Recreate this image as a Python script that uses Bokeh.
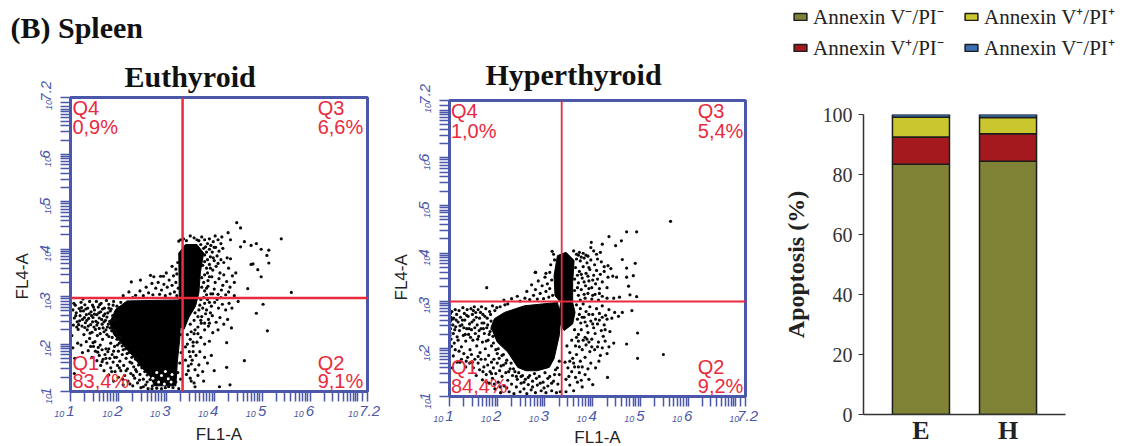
import numpy as np
from bokeh.embed import file_html
from bokeh.resources import INLINE
from bokeh.layouts import column, row
from bokeh.plotting import figure
from bokeh.models import (ColumnDataSource, FactorRange, FixedTicker, Label, Legend, LegendItem, LinearAxis, Range1d, Span, Title)

# --- Flow cytometry (log10 FL1-A, log10 FL4-A)
TICK_VALUES = [1, 2, 3, 4, 5, 6, 7, 7.2]
TICK_LABELS = ["1", "2", "3", "4", "5", "6", "", "7.2"]
PREFIX_VALUES = [1, 2, 3, 4, 5, 6, 7.2]

E_core = [(1.82,2.45),(1.94,2.73),(2.18,2.91),(3.26,2.93),(3.30,2.59),(3.28,2.10),(3.23,1.62),(3.2,1.12),(2.75,1.12),(2.66,1.32),(2.45,1.55),(2.3,1.75),(2.08,2.0),(1.9,2.2)]
E_tower = [(3.26,3.92),(3.40,4.10),(3.64,4.10),(3.78,3.92),(3.71,3.50),(3.68,3.08),(3.61,2.80),(3.47,2.56),(3.37,2.31),(3.22,2.4),(3.27,3.0)]
E_holes = [(2.72,1.28),(2.84,1.2),(2.9,1.34),(2.96,1.16),(3.04,1.27),(2.8,1.4),(3.1,1.2),(2.68,1.18),(2.98,1.42),(3.12,1.36)]
E_gate = (3.34, 2.97)
E_quadrants = [("Q4","0,9%"),("Q3","6,6%"),("Q1","83,4%"),("Q2","9,1%")]
E_points = [
(1.05,2.72),(1.08,2.55),(1.06,2.4),(1.1,2.82),(1.12,2.66),(1.14,2.47),(1.16,2.31),(1.18,2.75),(1.2,2.6),(1.22,2.88),(1.24,2.38),(1.25,2.52),(1.27,2.7),(1.28,2.2),(1.3,2.83),(1.31,2.45),(1.33,2.62),(1.35,2.3),(1.36,2.76),(1.38,2.54),(1.4,2.9),(1.4,2.12),(1.42,2.41),(1.43,2.68),(1.45,2.25),(1.46,2.82),(1.47,2.56),(1.49,2.36),(1.5,2.72),(1.51,2.05),(1.53,2.48),(1.54,2.9),(1.55,2.62),(1.56,2.18),(1.58,2.78),(1.6,2.33),(1.6,2.55),(1.62,1.98),(1.63,2.68),(1.64,2.86),(1.66,2.42),(1.67,2.1),(1.69,2.6),(1.7,2.26),(1.71,2.76),(1.73,2.5),(1.74,1.9),(1.75,2.92),(1.77,2.36),(1.78,2.66),(1.8,2.16),(1.8,2.84),(1.82,2.48),(1.84,2.02),(1.85,2.74),(1.86,2.28),(1.88,2.6),(1.9,1.85),(1.9,2.9),
(1.11,2.6),(1.17,2.41),(1.23,2.77),(1.29,2.56),(1.34,2.5),(1.37,2.38),(1.44,2.6),(1.48,2.78),(1.52,2.31),(1.57,2.45),(1.61,2.83),(1.65,2.52),(1.68,2.34),(1.72,2.64),(1.76,2.2),(1.79,2.42),(1.83,2.7),(1.87,2.14),(1.91,2.3),(1.93,2.52),(1.97,2.1),(1.97,2.8),(2.02,2.02),(2.05,2.88),(2.08,1.96),
(1.03,2.18),(1.05,1.92),(1.09,1.7),(1.15,2.02),(1.08,1.38),(1.22,1.98),(1.25,1.82),(1.33,2.05),(1.37,1.86),(1.42,1.95),(1.45,1.72),(1.47,2.03),(1.52,1.85),(1.55,1.65),(1.58,1.93),(1.6,1.76),(1.63,1.55),(1.66,1.88),(1.68,1.68),(1.7,1.44),(1.72,1.78),(1.76,1.6),(1.78,1.84),(1.8,1.35),(1.82,1.7),(1.84,1.5),(1.87,1.78),(1.89,1.62),(1.9,1.22),(1.92,1.95),(1.93,1.42),(1.96,1.72),(1.98,1.55),(2.0,1.85),(2.0,1.3),(2.03,1.64),(2.05,1.44),(2.08,1.78),(2.1,1.14),(2.11,1.55),(2.13,1.34),(2.15,1.9),(2.16,1.7),(2.19,1.48),(2.2,1.22),(2.22,1.82),(2.24,1.62),(2.26,1.38),(2.28,1.72),(2.3,1.12),(2.32,1.52),(2.34,1.28),(2.36,1.68),(2.38,1.42),(2.4,1.18),(2.42,1.56),(2.45,1.36),(2.47,1.08),(2.49,1.5),(2.52,1.26),(2.55,1.42),(2.57,1.14),(2.6,1.35),(2.62,1.06),(2.66,1.25),(2.68,1.42),(2.71,1.12),(2.74,1.3),(2.77,1.2),(2.8,1.07),(2.83,1.16),(2.9,1.06),(2.98,1.08),(3.05,1.1),(3.14,1.08),(3.2,1.2),(3.24,1.4),(3.26,1.06),(3.28,1.6),(3.3,1.26),(3.31,1.82),(3.3,2.2),
(2.27,3.31),(2.46,3.35),(2.67,3.45),(2.74,3.42),(2.88,3.43),(2.94,3.43),(3.0,3.5),(3.12,3.64),(3.26,4.17),(3.24,3.72),(3.2,3.58),(2.36,3.03),(2.45,3.12),(2.52,3.02),(2.58,3.2),(2.63,3.08),(2.7,3.28),(2.72,3.04),(2.78,3.18),(2.83,3.3),(2.86,3.05),(2.9,3.14),(2.95,3.26),(2.98,3.02),(3.02,3.2),(3.06,3.35),(3.08,3.06),(3.12,3.24),(3.15,3.44),(3.17,3.1),(3.2,3.3),(3.22,3.02),(3.25,3.18),(3.22,3.48),(2.1,3.02),(2.22,3.1),(2.3,2.98),
(3.3,4.2),(3.36,4.22),(3.5,4.28),(3.58,4.24),(3.68,4.18),(3.74,4.26),(3.8,4.2),(3.86,4.12),(3.9,4.22),(3.98,4.16),(4.02,4.28),(4.08,4.2),(4.14,4.12),(4.16,4.26),(3.82,4.05),(3.9,4.0),(3.96,3.94),(4.03,4.04),(4.1,3.96),(4.18,4.02),(3.8,3.88),(3.86,3.78),(3.92,3.84),(4.0,3.76),(4.06,3.86),(4.14,3.78),(4.2,3.72),(4.27,3.82),(4.34,3.8),(3.76,3.66),(3.84,3.6),(3.9,3.68),(3.97,3.56),(4.04,3.64),(4.12,3.5),(4.2,3.46),(4.3,3.6),(4.38,3.44),(4.45,3.5),(3.74,3.4),(3.8,3.46),(3.87,3.34),(3.95,3.42),(4.02,3.3),(4.1,3.38),(4.18,3.24),(4.26,3.32),(4.33,3.2),(4.42,3.3),(3.74,3.2),(3.8,3.12),(3.87,3.22),(3.93,3.06),(4.0,3.16),(4.08,3.05),(4.15,3.14),(4.24,3.04),(4.3,3.1),(4.42,3.02),(3.72,2.94),(3.8,2.86),(3.86,2.94),(3.94,2.8),(4.01,2.88),(4.09,2.76),(4.17,2.84),(4.24,2.72),(4.31,2.86),(4.37,2.76),(4.5,2.9),
(3.6,2.66),(3.68,2.72),(3.74,2.58),(3.82,2.64),(3.88,2.52),(3.96,2.6),(4.04,2.46),(4.12,2.56),(4.2,2.42),(4.28,2.52),(4.36,2.34),(3.5,2.42),(3.58,2.5),(3.66,2.36),(3.73,2.44),(3.8,2.3),(3.88,2.38),(3.97,2.24),(4.08,2.3),(3.44,2.2),(3.5,2.1),(3.58,2.22),(3.64,2.04),(3.72,2.14),(3.8,2.0),(3.9,2.06),(3.4,1.94),(3.48,1.84),(3.56,1.96),(3.62,1.76),(3.7,1.84),(3.8,1.72),(3.94,1.76),(3.4,1.66),(3.46,1.54),(3.54,1.66),(3.6,1.46),(3.68,1.56),(3.76,1.42),(3.86,1.6),(3.42,1.36),(3.5,1.28),(3.58,1.18),(3.66,1.34),
(4.47,4.56),(4.55,4.45),(5.40,4.22),(4.29,4.35),(4.34,4.2),(4.63,4.16),(4.88,4.12),(4.77,4.08),(4.55,4.05),(4.98,4.0),(5.14,3.98),(5.10,3.87),(5.14,3.71),(4.77,3.68),(4.81,3.69),(4.91,3.57),(4.98,3.42),(4.70,3.17),(5.61,3.09),(5.02,2.84),(4.88,2.65),(5.11,2.28),(4.63,1.65),(4.26,2.03),(4.26,1.51),(4.33,1.14),(4.11,1.10),(4.0,1.44),(3.78,1.22),(3.52,1.22),(3.6,1.1),
# second pass over the busiest parts of the cloud
(1.07,2.86),(1.13,2.36),(1.19,2.49),(1.21,2.7),(1.26,2.95),(1.3,2.35),(1.32,2.74),(1.39,2.64),(1.41,2.23),(1.46,2.47),(1.5,2.63),(1.55,2.4),(1.59,2.66),(1.62,2.22),(1.67,2.74),(1.7,2.47),(1.74,2.3),(1.76,2.57),(1.8,2.76),(1.83,2.34),(1.86,2.5),(1.89,2.82),(1.95,2.23),(1.98,1.98),(2.04,2.14),(2.1,1.88),(2.18,1.8),(2.28,1.6),(2.36,1.46),(2.44,1.24),(2.52,1.1),(2.6,1.2),(2.7,1.06),(1.48,1.95),(1.57,1.83),(1.66,1.63),(1.74,1.7),(1.8,1.9),(1.86,1.42),(1.92,1.72),(2.02,1.5),(2.09,1.26),(2.16,1.44),(2.24,1.16),(2.31,1.34),
(3.42,4.18),(3.64,4.2),(3.72,4.1),(3.78,4.02),(3.84,3.94),(3.93,4.08),(4.0,4.04),(3.8,3.74),(3.86,3.5),(3.92,3.6),(3.98,3.82),(4.08,3.7),(3.78,3.3),(3.84,3.18),(3.9,3.42),(3.78,2.98),(3.84,3.04),(3.9,2.88),(3.97,3.06),(4.06,2.94),(4.14,2.98),(3.7,2.82),(3.76,2.76),(3.84,2.72),(3.92,2.66),(3.66,2.58),(3.72,2.5),(3.8,2.44),(3.9,2.44),(3.6,2.3),(3.66,2.22),(3.52,2.26),(3.56,2.04),(3.44,2.0),(3.5,1.74),(3.56,1.84),(3.46,1.44),(3.52,1.58)]

H_core = [(1.87,2.45),(1.94,2.63),(2.15,2.76),(2.57,2.90),(3.26,2.97),(3.33,2.69),(3.30,2.28),(3.19,1.79),(3.09,1.61),(2.84,1.54),(2.60,1.54),(2.43,1.61),(2.22,1.93),(2.0,2.14)]
H_tower = [(3.19,3.53),(3.26,3.95),(3.44,4.02),(3.61,3.85),(3.58,3.39),(3.58,2.97),(3.63,2.76),(3.58,2.52),(3.40,2.38),(3.27,2.6),(3.33,2.97),(3.21,3.11)]
H_holes = []
H_gate = (3.35, 2.99)
H_quadrants = [("Q4","1,0%"),("Q3","5,4%"),("Q1","84,4%"),("Q2","9,2%")]
H_points = [
(1.01,2.5),(1.02,2.42),(1.01,2.34),(1.02,2.58),(1.01,2.28),(1.03,2.2),(1.03,2.66),(1.05,2.78),(1.07,2.5),(1.08,2.32),(1.09,2.64),(1.1,2.12),(1.12,2.82),(1.13,2.46),(1.15,2.72),(1.16,2.25),(1.18,2.56),(1.2,2.8),(1.21,2.38),(1.23,2.66),(1.25,2.04),(1.26,2.5),(1.28,2.86),(1.29,2.28),(1.31,2.74),(1.32,2.6),(1.34,2.16),(1.36,2.42),(1.37,2.82),(1.39,2.68),(1.4,2.3),(1.42,2.52),(1.43,1.98),(1.45,2.84),(1.46,2.4),(1.48,2.72),(1.49,2.18),(1.51,2.6),(1.52,2.88),(1.54,2.32),(1.55,2.76),(1.57,2.06),(1.58,2.5),(1.6,2.82),(1.61,2.26),(1.63,2.64),(1.64,1.92),(1.66,2.42),(1.67,2.88),(1.69,2.14),(1.7,2.72),(1.72,2.54),(1.73,2.32),(1.75,2.0),(1.76,2.84),(1.78,2.44),(1.79,2.64),(1.81,2.18),(1.82,1.86),(1.84,2.78),(1.85,2.36),(1.87,2.58),(1.88,2.06),(1.9,2.9),(1.91,2.26),(1.93,1.78),(1.95,2.8),(1.97,1.98),(1.99,2.86),(2.02,2.0),(2.06,2.88),(2.1,1.86),(2.16,2.92),(2.22,2.94),
(1.04,2.05),(1.08,1.85),(1.06,1.6),(1.12,1.98),(1.16,1.72),(1.2,1.95),(1.25,1.78),(1.3,1.9),(1.34,1.62),(1.38,1.82),(1.42,1.7),(1.46,1.88),(1.5,1.6),(1.53,1.78),(1.56,1.44),(1.6,1.7),(1.63,1.56),(1.66,1.78),(1.69,1.35),(1.72,1.62),(1.75,1.78),(1.77,1.46),(1.8,1.66),(1.83,1.28),(1.85,1.52),(1.88,1.72),(1.9,1.38),(1.92,1.6),(1.95,1.16),(1.97,1.48),(2.0,1.7),(2.02,1.3),(2.05,1.54),(2.07,1.08),(2.1,1.42),(2.13,1.66),(2.15,1.22),(2.18,1.5),(2.2,1.76),(2.22,1.34),(2.25,1.1),(2.27,1.58),(2.3,1.26),(2.32,1.44),(2.35,1.06),(2.37,1.52),(2.4,1.2),(2.42,1.36),(2.45,1.5),(2.48,1.1),(2.5,1.28),(2.53,1.44),(2.56,1.16),(2.59,1.36),(2.62,1.06),(2.65,1.25),(2.68,1.44),(2.71,1.14),(2.74,1.32),(2.78,1.48),(2.8,1.08),(2.84,1.24),(2.88,1.42),(2.92,1.12),(2.96,1.3),(3.0,1.5),(3.02,1.08),(3.06,1.22),(3.1,1.42),(3.14,1.12),(3.18,1.32),(3.22,1.56),(3.24,1.08),(3.27,1.26),(3.3,1.46),(3.3,1.74),(3.32,1.1),
(1.78,3.28),(2.14,3.02),(2.3,3.05),(2.42,3.1),(2.48,3.0),(2.58,3.06),(2.62,3.2),(2.68,3.03),(2.72,3.34),(2.76,3.12),(2.8,3.24),(2.84,3.04),(2.86,3.42),(2.9,3.16),(2.94,3.32),(2.97,3.05),(3.0,3.5),(3.02,3.2),(3.05,3.36),(3.08,3.08),(3.1,3.6),(3.1,3.26),(3.14,3.44),(3.16,3.12),(3.02,3.58),(2.8,3.6),(3.2,3.86),(3.18,3.98),(3.12,3.76),(3.15,4.04),(2.8,3.6),
(3.6,4.05),(3.72,4.02),(3.7,3.96),(3.8,4.0),(3.9,3.94),(3.96,4.12),(4.02,4.05),(4.08,3.98),(4.16,4.02),(3.66,3.88),(3.74,3.84),(3.82,3.9),(3.88,3.8),(3.96,3.86),(4.04,3.76),(4.1,3.88),(4.18,3.82),(4.24,3.72),(4.32,3.74),(4.38,3.68),(3.64,3.7),(3.72,3.62),(3.8,3.72),(3.86,3.58),(3.94,3.66),(4.02,3.54),(4.08,3.64),(4.16,3.56),(4.24,3.62),(4.32,3.5),(4.42,3.52),(4.5,3.5),(3.62,3.46),(3.7,3.38),(3.78,3.48),(3.85,3.32),(3.92,3.42),(3.98,3.28),(4.06,3.36),(4.14,3.26),(4.2,3.4),(4.3,3.28),(3.62,3.22),(3.7,3.12),(3.76,3.24),(3.84,3.06),(3.9,3.16),(3.98,3.04),(4.05,3.14),(4.12,3.02),(4.2,3.1),(4.3,3.06),(4.44,3.06),(4.56,3.08),
(3.66,2.92),(3.74,2.84),(3.8,2.94),(3.86,2.78),(3.94,2.88),(4.0,2.72),(4.08,2.84),(4.14,2.74),(4.2,2.9),(4.27,2.7),(4.34,2.82),(4.4,2.64),(4.46,2.76),(4.54,2.68),(4.62,2.76),(3.68,2.62),(3.75,2.54),(3.82,2.66),(3.88,2.48),(3.96,2.58),(4.02,2.44),(4.1,2.52),(4.18,2.38),(4.24,2.5),(4.3,2.62),(4.36,2.36),(3.62,2.4),(3.7,2.3),(3.76,2.4),(3.84,2.24),(3.9,2.34),(3.98,2.2),(4.05,2.32),(4.12,2.14),(4.2,2.02),(4.26,2.16),(4.34,2.04),(4.44,2.12),(3.56,2.18),(3.64,2.06),(3.7,2.16),(3.78,1.98),(3.86,2.08),(3.94,1.94),(4.04,1.98),(4.16,1.86),(4.3,1.9),(3.46,2.06),(3.52,1.92),(3.58,1.8),(3.66,1.88),(3.74,1.74),(3.84,1.82),(3.96,1.7),(4.06,1.6),(3.42,1.72),(3.48,1.6),(3.56,1.52),(3.62,1.62),(3.72,1.5),(3.84,1.46),(3.92,1.36),(3.44,1.36),(3.52,1.24),(3.6,1.12),(3.68,1.3),(3.78,1.2),(3.44,1.1),
(5.63,4.67),(4.71,4.45),(4.92,4.45),(4.34,4.35),(4.60,4.26),(3.97,4.23),(4.48,4.16),(4.20,4.19),(4.62,3.87),(4.89,3.79),(4.71,3.69),(4.85,3.53),(4.71,3.50),(4.75,3.31),(4.78,3.13),(4.92,3.09),(4.82,2.80),(4.94,2.33),(4.71,2.10),(5.48,1.88),(4.94,1.80),(4.31,1.40),(4.0,1.25),(4.13,1.74),(2.80,3.6),
# second pass over the busiest parts of the cloud
(1.02,2.74),(1.06,2.62),(1.11,2.4),(1.14,2.6),(1.18,2.18),(1.22,2.48),(1.27,2.6),(1.3,2.44),(1.33,2.3),(1.36,2.7),(1.41,2.42),(1.44,2.24),(1.47,2.56),(1.5,2.8),(1.53,2.44),(1.56,2.66),(1.59,2.2),(1.62,2.38),(1.65,2.76),(1.68,2.54),(1.71,2.42),(1.74,2.68),(1.77,2.16),(1.8,2.5),(1.83,2.3),(1.86,2.72),(1.89,2.42),(1.92,2.12),(1.96,2.32),(2.0,1.9),(2.04,1.8),(2.08,1.64),(2.13,1.88),(2.18,1.7),(2.24,1.52),(2.29,1.7),(2.34,1.58),(2.4,1.42),(2.5,1.42),(2.56,1.3),(2.65,1.4),(2.74,1.2),(2.82,1.38),(2.9,1.28),(2.98,1.18),(3.06,1.38),(3.14,1.28),(3.2,1.46),(3.26,1.6),(1.22,1.72),(1.35,1.74),(1.48,1.72),(1.6,1.84),(1.7,1.52),(1.78,1.3),(1.88,1.48),(1.94,1.26),(2.06,1.2),(2.2,1.18),
(3.66,3.98),(3.76,3.92),(3.86,3.96),(3.92,3.7),(3.68,3.54),(3.76,3.56),(3.82,3.4),(3.9,3.52),(4.0,3.44),(4.1,3.46),(3.68,3.28),(3.74,3.02),(3.82,3.14),(3.92,3.26),(4.0,3.12),(4.14,3.16),(3.72,2.72),(3.78,2.66),(3.84,2.56),(3.92,2.72),(4.0,2.52),(4.06,2.62),(4.14,2.6),(4.2,2.66),(4.26,2.4),(3.66,2.24),(3.72,2.04),(3.8,2.18),(3.88,2.2),(3.92,2.14),(3.98,2.04),(4.1,2.04),(4.22,2.26),(3.52,1.74),(3.6,1.7),(3.7,1.62),(3.78,1.62),(3.9,1.58),(3.5,1.42),(3.64,1.4),(3.76,1.34)]

# --- Stacked bars: apoptosis (%) per group
GROUPS = ["E", "H"]
V_NEG_PI_NEG = [83.4, 84.4]
V_POS_PI_NEG = [9.1, 9.2]
V_POS_PI_POS = [6.6, 5.4]
V_NEG_PI_POS = [0.9, 1.0]
BAR_TICKS = [0, 20, 40, 60, 80, 100]
SERIES_NAMES = ["Annexin V\u207b/PI\u207b", "Annexin V\u207a/PI\u207a", "Annexin V\u207a/PI\u207b", "Annexin V\u207b/PI\u207a"]
SERIES_COLORS = ["#808235", "#c9c62e", "#a3191e", "#3a6fb0"]

BLUE = "#4b57a9"
RED = "#ea2a3e"
SERIF = "Liberation Serif"
SANS = "Liberation Sans"
NB = "\u00a0"

def log_ticks():
    return [float(n + np.log10(k)) for n in range(1, 7) for k in range(2, 10)] + [7.1]

def lab(p, text, x, y, **kw):
    kw.setdefault("text_font", SANS)
    p.add_layout(Label(x=x, y=y, text=text, **kw))

def prefix_axis(pad):
    ax = LinearAxis(ticker=FixedTicker(ticks=PREFIX_VALUES),
                    major_label_overrides={v: "10" + NB * pad for v in PREFIX_VALUES})
    ax.axis_line_color = None
    ax.major_tick_line_color = None
    ax.minor_tick_line_color = None
    ax.major_tick_out = 0
    ax.major_tick_in = 0
    ax.minor_tick_out = 0
    ax.minor_tick_in = 0
    ax.major_label_text_color = BLUE
    ax.major_label_text_font = SANS
    ax.major_label_text_font_style = "italic"
    ax.major_label_text_font_size = "9px"
    return ax

def facs(width, height, left, right, top, bottom, core, tower, holes, points, gate, quads, title, title_off, title_standoff,
         qy, qx, line_w, fl4_offset, fl1_standoff):
    p = figure(width=width, height=height, min_border_left=left, min_border_right=right, min_border_top=top,
               min_border_bottom=bottom, x_range=Range1d(1, 7.2), y_range=Range1d(1, 7.2), frame_align=False,
               toolbar_location=None, output_backend="svg", background_fill_color="white", border_fill_color="white")
    p.grid.visible = False
    p.outline_line_color = BLUE
    p.outline_line_width = 3
    extra = log_ticks()
    for ax, orient, pad7, standoff in ((p.xaxis[0], "horizontal", 1, 0), (p.yaxis[0], "vertical", 3, 7)):
        ax.ticker = FixedTicker(ticks=TICK_VALUES + extra)
        labels = {v: (NB * pad7 + t if v == 7.2 else t) for v, t in zip(TICK_VALUES, TICK_LABELS)}
        labels.update({v: "" for v in extra})
        ax.major_label_overrides = labels
        ax.major_label_orientation = orient
        ax.major_label_text_color = BLUE
        ax.major_label_text_font = SANS
        ax.major_label_text_font_style = "italic"
        ax.major_label_text_font_size = "15px"
        ax.major_label_standoff = standoff
        ax.axis_line_color = BLUE
        ax.axis_line_width = 3
        ax.major_tick_line_color = BLUE
        ax.major_tick_line_width = 1.5
        ax.major_tick_out = 10
        ax.major_tick_in = 0
        ax.minor_tick_line_color = None
        ax.minor_tick_out = 0
        ax.minor_tick_in = 0

    bx = prefix_axis(9)
    bx.major_label_standoff = -13
    bx.axis_label = "FL1-A"
    bx.axis_label_text_font = SANS
    bx.axis_label_text_font_style = "normal"
    bx.axis_label_text_font_size = "17px"
    bx.axis_label_text_color = "#222222"
    bx.axis_label_standoff = fl1_standoff
    p.add_layout(bx, "below")

    ly = prefix_axis(6)
    ly.major_label_orientation = "vertical"
    ly.major_label_standoff = -20
    p.add_layout(ly, "left")
    p.add_layout(Title(text="FL4-A", align="left", offset=fl4_offset, standoff=4, text_font=SANS, text_font_style="normal",
                       text_font_size="17px", text_color="#222222"), "left")

    for poly in (core, tower):
        p.patch([a for a, _ in poly], [b for _, b in poly], fill_color="#000000", line_color="#000000", line_width=1)
    p.scatter([a for a, _ in points], [b for _, b in points], size=3.2, marker="circle", fill_color="#0a0a0a", line_color=None)
    if holes:
        p.scatter([a for a, _ in holes], [b for _, b in holes], size=3, marker="circle", fill_color="white", line_color=None)

    p.add_layout(Span(location=gate[0], dimension="height", line_color=RED, line_width=line_w))
    p.add_layout(Span(location=gate[1], dimension="width", line_color=RED, line_width=line_w))

    (q4, q3, q1, q2) = quads
    ql, qr = qx
    for (name, pct), x, y1, y2 in ((q4, ql, qy[0], qy[1]), (q3, qr, qy[0], qy[1]), (q1, ql, qy[2], qy[3]), (q2, qr, qy[2], qy[3])):
        lab(p, name, x, y1, text_color=RED, text_font_size="20px", text_baseline="alphabetic")
        lab(p, pct, x, y2, text_color=RED, text_font_size="20px", text_baseline="alphabetic")

    p.add_layout(Title(text=title, align="left", offset=title_off, standoff=title_standoff, text_font=SERIF, text_font_style="bold",
                       text_font_size="30px", text_color="#111111"), "above")
    return p

p1 = facs(380, 447, 70, 13, 95, 56, E_core, E_tower, E_holes, E_points, E_gate, E_quadrants, "Euthyroid", 54, 10,
          (6.97, 6.57, 1.60, 1.22), (1.04, 6.16), 2.5, 92, 3)
p1.add_layout(Title(text="(B) Spleen", align="left", offset=-60, standoff=17, text_font=SERIF, text_font_style="bold",
                    text_font_size="30px", text_color="#111111"), "above")
p2 = facs(390, 451, 69, 25, 100, 55, H_core, H_tower, H_holes, H_points, H_gate, H_quadrants, "Hyperthyroid", 36, 20,
          (6.97, 6.56, 1.62, 1.23), (1.03, 6.2), 1.8, 96, 1)

# --- bars
src = ColumnDataSource(dict(group=GROUPS, a=V_NEG_PI_NEG, b=V_POS_PI_NEG, c=V_POS_PI_POS, d=V_NEG_PI_POS))
p3 = figure(width=365, height=377, min_border_left=93, min_border_right=70, min_border_top=44, min_border_bottom=33,
            x_range=FactorRange(factors=GROUPS, range_padding=0.16), y_range=Range1d(0, 100), frame_align=False,
            toolbar_location=None, output_backend="svg", background_fill_color="white", border_fill_color="white")
rs = p3.vbar_stack(["a", "b", "c", "d"], x="group", width=0.655, source=src,
                   color=[SERIES_COLORS[0], SERIES_COLORS[2], SERIES_COLORS[1], SERIES_COLORS[3]], line_color="#1c1c1c", line_width=1.5)
p3.grid.visible = False
p3.outline_line_color = None
p3.yaxis.ticker = FixedTicker(ticks=BAR_TICKS)
p3.yaxis.axis_label = "Apoptosis (%)"
p3.yaxis.axis_label_text_font = SERIF
p3.yaxis.axis_label_text_font_style = "bold"
p3.yaxis.axis_label_text_font_size = "24px"
p3.yaxis.axis_label_text_color = "#222222"
p3.yaxis.axis_label_standoff = 11
p3.yaxis.major_label_text_font = SERIF
p3.yaxis.major_label_text_font_size = "20px"
p3.yaxis.major_label_text_color = "#333333"
p3.yaxis.major_label_standoff = 6
p3.yaxis.major_tick_out = 5
p3.yaxis.major_tick_in = 0
p3.yaxis.minor_tick_out = 0
p3.yaxis.minor_tick_in = 0
p3.yaxis.axis_line_color = "#333333"
p3.yaxis.axis_line_width = 1.5
p3.yaxis.major_tick_line_color = "#333333"
p3.xaxis.axis_line_color = "#333333"
p3.xaxis.axis_line_width = 1.5
p3.xaxis.major_tick_line_color = None
p3.xaxis.minor_tick_line_color = None
p3.xaxis.major_tick_out = 0
p3.xaxis.major_label_text_font = SERIF
p3.xaxis.major_label_text_font_style = "bold"
p3.xaxis.major_label_text_font_size = "26px"
p3.xaxis.major_label_text_color = "#222222"
p3.xaxis.major_label_standoff = 1

# legend strip above the bars: hidden renderers only supply the legend's colour keys
lf = figure(width=365, height=70, min_border=0, x_range=Range1d(0, 1), y_range=Range1d(0, 1), frame_align=False,
            x_axis_location=None, y_axis_location=None, toolbar_location=None, output_backend="svg",
            background_fill_color="white", border_fill_color="white")
lf.grid.visible = False
lf.outline_line_color = None
key_values = [V_NEG_PI_NEG, V_POS_PI_POS, V_POS_PI_NEG, V_NEG_PI_POS]
keys = [lf.vbar(x=[0.25, 0.75], top=v, width=0.1, fill_color=c, line_color="#1c1c1c", line_width=1.5, visible=False)
        for c, v in zip(SERIES_COLORS, key_values)]
lg = Legend(items=[LegendItem(label=t, renderers=[r]) for t, r in zip(SERIES_NAMES, keys)],
            location=(22, 9), orientation="horizontal", ncols=2,
            border_line_color=None, background_fill_alpha=0, glyph_width=16, glyph_height=9, label_standoff=5,
            label_width=147, label_text_font=SERIF, label_text_font_size="21px", label_text_color="#222222",
            spacing=3, padding=0, margin=0)
lf.add_layout(lg, "center")

page = row(p1, p2, column(lf, p3, spacing=0), spacing=0)
open("out.html", "w").write(file_html(page, INLINE))
